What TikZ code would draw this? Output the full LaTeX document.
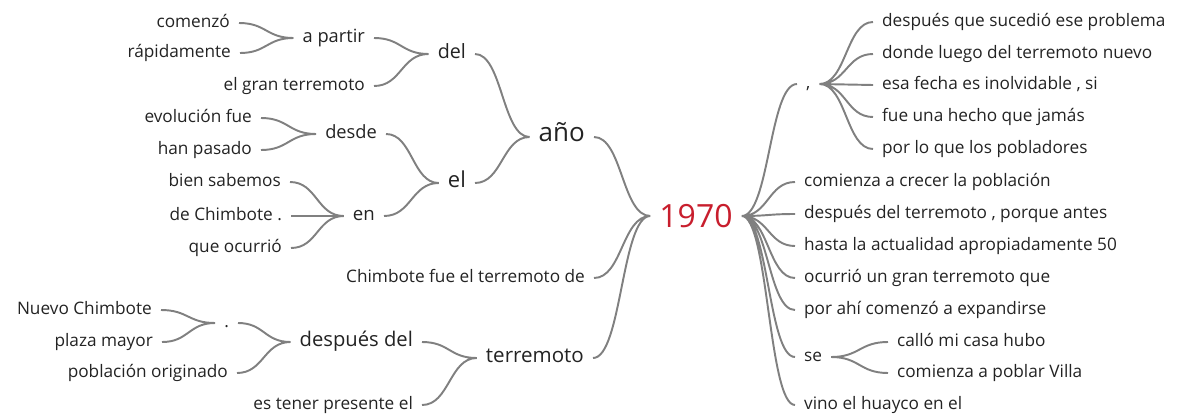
\documentclass[tikz,border=0pt]{standalone}
\usepackage{fontspec}
\setmainfont{Open Sans}
\usetikzlibrary{calc}
\definecolor{linkgray}{RGB}{128,128,128}
\definecolor{rootred}{RGB}{200,30,45}
\definecolor{wordcol}{RGB}{35,35,35}

\begin{document}
\begin{tikzpicture}[x=0.02cm, y=-0.02cm,
        word/.style={inner xsep=5pt, inner ysep=2pt, text=wordcol, font=\fontsize{9.8}{12}\selectfont},
        sz/.style={font=\fontsize{#1}{#1}\selectfont},
        L/.style={word, anchor=mid east},
        R/.style={word, anchor=mid west},
        link/.style={draw=linkgray, line width=1.1pt,
            to path={let \p1=(\tikztostart), \p2=(\tikztotarget) in
                .. controls ({(\x1+\x2)/2},\y1) and ({(\x1+\x2)/2},\y2) .. (\tikztotarget)}}]
            \useasboundingbox (0,0) rectangle (1179,416);
            % root
            \node[word, sz=18.2, text=rootred] (root) at (696,216) {1970};
            % words before 1970
            \node[L] (comenzo) at (239,23) {comenzó};
            \node[L] (rapida) at (240,53) {rápidamente};
            \node[L, sz=10.4] (apartir) at (374,38) {a partir};
            \node[L] (elgran) at (374,86) {el gran terremoto};
            \node[L, sz=11.2] (del) at (475,54) {del};
            \node[L] (evol) at (261,118) {evolución fue};
            \node[L] (hanpas) at (261,150) {han pasado};
            \node[L, sz=10.4] (desde) at (386,134) {desde};
            \node[L] (bien) at (290,182) {bien sabemos};
            \node[L] (dechim) at (291,216) {de Chimbote .};
            \node[L] (queoc) at (291,248) {que ocurrió};
            \node[L, sz=10.6] (en) at (384,216) {en};
            \node[L, sz=12.5] (el) at (475,183) {el};
            \node[L, sz=14.8] (ano) at (594,137) {año};
            \node[L] (chimfue) at (594,278) {Chimbote fue el terremoto de};
            \node[L] (nuevo) at (161,310) {Nuevo Chimbote};
            \node[L] (plaza) at (162,342) {plaza mayor};
            \node[L] (punto) at (238,323) {.};
            \node[L] (pobl) at (237,373) {población originado};
            \node[L, sz=11.5] (despdel) at (422,342) {después del};
            \node[L] (estener) at (422,405) {es tener presente el};
            \node[L, sz=11.7] (terr) at (593,358) {terremoto};
            % words after 1970
            \node[R] (coma) at (797,84) {,};
            \node[R] (probl) at (873,22) {después que sucedió ese problema};
            \node[R] (donde) at (873,54) {donde luego del terremoto nuevo};
            \node[R] (fecha) at (873,85) {esa fecha es inolvidable , si};
            \node[R] (hecho) at (873,117) {fue una hecho que jamás};
            \node[R] (pobla) at (873,149) {por lo que los pobladores};
            \node[R] (crecer) at (795,182) {comienza a crecer la población};
            \node[R] (antes) at (795,214) {después del terremoto , porque antes};
            \node[R] (hasta) at (795,246) {hasta la actualidad apropiadamente 50};
            \node[R] (ocurrio) at (795,278) {ocurrió un gran terremoto que};
            \node[R] (porahi) at (795,310) {por ahí comenzó a expandirse};
            \node[R] (se) at (795,357) {se};
            \node[R] (callo) at (888,342) {calló mi casa hubo};
            \node[R] (villa) at (888,373) {comienza a poblar Villa};
            \node[R] (vino) at (795,405) {vino el huayco en el};
            % left branches
            \draw[link] (comenzo.mid east) to (apartir.mid west) (rapida.mid east) to (apartir.mid west);
            \draw[link] (apartir.mid east) to (del.mid west) (elgran.mid east) to (del.mid west);
            \draw[link] (evol.mid east) to (desde.mid west) (hanpas.mid east) to (desde.mid west);
            \draw[link] (bien.mid east) to (en.mid west) (dechim.mid east) to (en.mid west)
                (queoc.mid east) to (en.mid west);
            \draw[link] (desde.mid east) to (el.mid west) (en.mid east) to (el.mid west);
            \draw[link] (del.mid east) to (ano.mid west) (el.mid east) to (ano.mid west);
            \draw[link] (nuevo.mid east) to (punto.mid west) (plaza.mid east) to (punto.mid west);
            \draw[link] (punto.mid east) to (despdel.mid west) (pobl.mid east) to (despdel.mid west);
            \draw[link] (despdel.mid east) to (terr.mid west) (estener.mid east) to (terr.mid west);
            \draw[link] (ano.mid east) to (root.west) (chimfue.mid east) to (root.west)
                (terr.mid east) to (root.west);
            % right branches
            \draw[link] (root.east) to (coma.mid west) (root.east) to (crecer.mid west)
                (root.east) to (antes.mid west) (root.east) to (hasta.mid west)
                (root.east) to (ocurrio.mid west) (root.east) to (porahi.mid west)
                (root.east) to (se.mid west) (root.east) to (vino.mid west);
            \draw[link] (coma.mid east) to (probl.mid west) (coma.mid east) to (donde.mid west)
                (coma.mid east) to (fecha.mid west) (coma.mid east) to (hecho.mid west)
                (coma.mid east) to (pobla.mid west);
            \draw[link] (se.mid east) to (callo.mid west) (se.mid east) to (villa.mid west);
        \end{tikzpicture}
\end{document}
